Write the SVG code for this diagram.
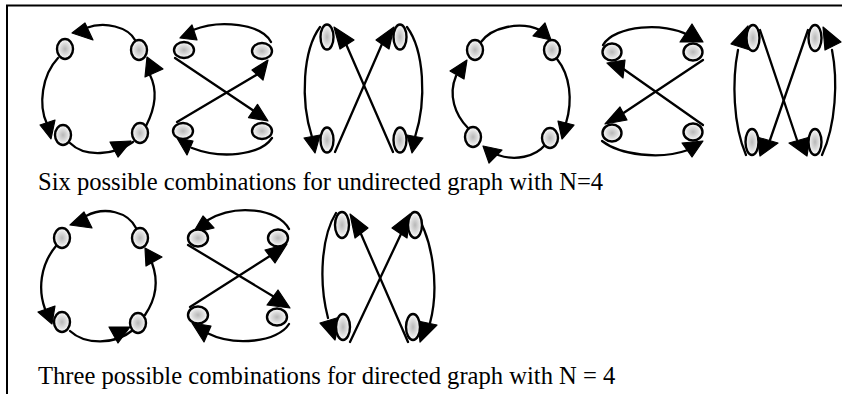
<svg xmlns="http://www.w3.org/2000/svg" width="842" height="394" viewBox="0 0 842 394">
<style>
.bg{fill:#fff}
.frame{fill:none;stroke:#000;stroke-width:2}
.e{fill:none;stroke:#000;stroke-width:2.3;stroke-linecap:round}
.a{fill:#000;stroke:#000;stroke-width:1.2;stroke-linejoin:round}
.n{fill:url(#stip);stroke:#000;stroke-width:2.4}
.t{font-family:"Liberation Serif","Times New Roman",serif;font-size:24.6px;fill:#000}
</style>
<defs>
<radialGradient id="stip" cx="50%" cy="50%" r="50%">
<stop offset="0" stop-color="#b8b8b8"/>
<stop offset="0.55" stop-color="#dcdcdc"/>
<stop offset="1" stop-color="#ffffff"/>
</radialGradient>
</defs>
<rect class="bg" x="0" y="0" width="842" height="394"/>
<path class="frame" d="M7,394 L7,5.5 L842,5.5"/>

<!-- Graph 1 -->
<g id="graph1">
<g id="graph1-connectors">
<path class="e" d="M135,40 C128,27 105,21 86,28"/>
<polygon class="a" points="72,33 85,23 93,40"/>
<path class="e" d="M150,75 Q161,97 146,126"/>
<polygon class="a" points="147,57 163,69 145,77"/>
<path class="e" d="M58,58 C42,75 38,105 47,124"/>
<polygon class="a" points="40,125 55,120 51,139"/>
<path class="e" d="M70,143 C85,158 115,155 133,142"/>
<polygon class="a" points="110,142 131,141 118,157"/>
</g>
<g id="graph1-n1"><ellipse class="n" cx="65" cy="49" rx="8" ry="10"/></g>
<g id="graph1-n2"><ellipse class="n" cx="139" cy="50" rx="8" ry="10"/></g>
<g id="graph1-n3"><ellipse class="n" cx="63" cy="135" rx="8" ry="10"/></g>
<g id="graph1-n4"><ellipse class="n" cx="140" cy="133" rx="8" ry="10"/></g>
</g>

<!-- Graph 2 -->
<g id="graph2">
<g id="graph2-connectors">
<path class="e" d="M271,42 C262,24 220,19 193,30"/>
<polygon class="a" points="180,38 192,25 197,40"/>
<path class="e" d="M175,58 L254,111"/>
<polygon class="a" points="268,121 248.5,117.6 257.5,104.4"/>
<path class="e" d="M177,122 L258,74"/>
<polygon class="a" points="268,60 252,70 263,80"/>
<path class="e" d="M272,138 C260,156 220,159 192,148"/>
<polygon class="a" points="177,138 193,141 187,155"/>
</g>
<g id="graph2-n1"><ellipse class="n" cx="184" cy="50" rx="10" ry="8"/></g>
<g id="graph2-n2"><ellipse class="n" cx="262" cy="51" rx="10" ry="8"/></g>
<g id="graph2-n3"><ellipse class="n" cx="183" cy="131" rx="10" ry="8"/></g>
<g id="graph2-n4"><ellipse class="n" cx="262" cy="131" rx="10" ry="8"/></g>
</g>

<!-- Graph 3 -->
<g id="graph3">
<g id="graph3-connectors">
<path class="e" d="M320,27 C303,50 300,100 312,137"/>
<polygon class="a" points="304,138 320,135 315,153"/>
<path class="e" d="M407,27 C424,50 427,100 415,137"/>
<polygon class="a" points="423,138 407,135 412,153"/>
<path class="e" d="M393,152 L346,44"/>
<polygon class="a" points="334,27 354,40 340,49"/>
<path class="e" d="M335,152 L382,44"/>
<polygon class="a" points="394,27 376,40 389,49"/>
</g>
<g id="graph3-n1"><ellipse class="n" cx="327" cy="37" rx="6.5" ry="12.5"/></g>
<g id="graph3-n2"><ellipse class="n" cx="400" cy="37" rx="6.5" ry="12.5"/></g>
<g id="graph3-n3"><ellipse class="n" cx="327" cy="140" rx="6.5" ry="12.5"/></g>
<g id="graph3-n4"><ellipse class="n" cx="400" cy="140" rx="6.5" ry="12.5"/></g>
</g>

<!-- Graph 4 -->
<g id="graph4">
<g id="graph4-connectors">
<path class="e" d="M481,42 C492,27 520,21 540,30"/>
<polygon class="a" points="551,40 533,36 545,23"/>
<path class="e" d="M468,128 C455,115 448,95 456,76"/>
<polygon class="a" points="467,60 450,71 464,79"/>
<path class="e" d="M557,59 C570,75 573,100 566,123"/>
<polygon class="a" points="574,125 558,121 562,139"/>
<path class="e" d="M545,145 C535,157 515,161 498,155"/>
<polygon class="a" points="483,146 502,150 489,163"/>
</g>
<g id="graph4-n1"><ellipse class="n" cx="475" cy="50" rx="8" ry="10"/></g>
<g id="graph4-n2"><ellipse class="n" cx="552" cy="50" rx="8" ry="10"/></g>
<g id="graph4-n3"><ellipse class="n" cx="473" cy="137" rx="8" ry="10"/></g>
<g id="graph4-n4"><ellipse class="n" cx="550" cy="138" rx="8" ry="10"/></g>
</g>

<!-- Graph 5 -->
<g id="graph5">
<g id="graph5-connectors">
<path class="e" d="M603,45 C615,25 665,22 688,35"/>
<polygon class="a" points="680,42 692,24 703,42"/>
<path class="e" d="M703,60 L622,114"/>
<polygon class="a" points="605,124 620,107 627,120"/>
<path class="e" d="M703,125 L622,68"/>
<polygon class="a" points="607,63 625,60 623,78"/>
<path class="e" d="M602,141 C620,155 660,160 688,150"/>
<polygon class="a" points="682,143 703,141 692,157"/>
</g>
<g id="graph5-n1"><ellipse class="n" cx="612" cy="52" rx="9.5" ry="8.5"/></g>
<g id="graph5-n2"><ellipse class="n" cx="693" cy="52" rx="9.5" ry="8.5"/></g>
<g id="graph5-n3"><ellipse class="n" cx="612" cy="133" rx="9.5" ry="8.5"/></g>
<g id="graph5-n4"><ellipse class="n" cx="693" cy="132" rx="9.5" ry="8.5"/></g>
</g>

<!-- Graph 6 -->
<g id="graph6">
<g id="graph6-connectors">
<path class="e" d="M746,155 C733,125 732,80 738,50"/>
<polygon class="a" points="731,44 748,26 750,50"/>
<path class="e" d="M822,155 C836,125 838,80 832,50"/>
<polygon class="a" points="823,27 841,42 825,50"/>
<path class="e" d="M760,30 L797,140"/>
<polygon class="a" points="810,137 789,143 807,156"/>
<path class="e" d="M808,30 L770,140"/>
<polygon class="a" points="757,137 778,143 760,156"/>
</g>
<g id="graph6-n1"><ellipse class="n" cx="753" cy="38" rx="6.5" ry="13"/></g>
<g id="graph6-n2"><ellipse class="n" cx="815" cy="38" rx="6.5" ry="13"/></g>
<g id="graph6-n3"><ellipse class="n" cx="752" cy="142" rx="6.5" ry="13"/></g>
<g id="graph6-n4"><ellipse class="n" cx="815" cy="142" rx="6.5" ry="13"/></g>
</g>

<text class="t" x="38" y="190">Six possible combinations for undirected graph with N=4</text>

<!-- Graph 7 -->
<g id="graph7">
<g id="graph7-connectors">
<path class="e" d="M136,228 C128,212 105,206 86,216"/>
<polygon class="a" points="70,225 84,212 92,228"/>
<path class="e" d="M152,263 Q162,290 145,315"/>
<polygon class="a" points="145,248 162,257 146,266"/>
<path class="e" d="M56,246 C40,265 38,290 45,309"/>
<polygon class="a" points="38,312 55,306 52,324"/>
<path class="e" d="M70,331 C85,345 115,345 133,330"/>
<polygon class="a" points="109,327 130,327 118,343"/>
</g>
<g id="graph7-n1"><ellipse class="n" cx="62" cy="238" rx="8" ry="10"/></g>
<g id="graph7-n2"><ellipse class="n" cx="140" cy="238" rx="8" ry="10"/></g>
<g id="graph7-n3"><ellipse class="n" cx="62" cy="322" rx="8" ry="10"/></g>
<g id="graph7-n4"><ellipse class="n" cx="138" cy="323" rx="8" ry="10"/></g>
</g>

<!-- Graph 8 -->
<g id="graph8">
<g id="graph8-connectors">
<path class="e" d="M289,229 C278,208 235,204 208,220"/>
<polygon class="a" points="193,233 203,216 214,228"/>
<path class="e" d="M188,245 L276,298"/>
<polygon class="a" points="278,290 290,308 267,305"/>
<path class="e" d="M190,307 L273,254"/>
<polygon class="a" points="265,250 287,244 275,263"/>
<path class="e" d="M289,324 C278,342 235,347 207,333"/>
<polygon class="a" points="192,323 211,326 204,342"/>
</g>
<g id="graph8-n1"><ellipse class="n" cx="198" cy="238" rx="10" ry="8.5"/></g>
<g id="graph8-n2"><ellipse class="n" cx="278" cy="238" rx="10" ry="8.5"/></g>
<g id="graph8-n3"><ellipse class="n" cx="198" cy="315" rx="10" ry="8.5"/></g>
<g id="graph8-n4"><ellipse class="n" cx="277" cy="317" rx="10" ry="8.5"/></g>
</g>

<!-- Graph 9 -->
<g id="graph9">
<g id="graph9-connectors">
<path class="e" d="M336,213 C322,235 318,280 328,318"/>
<polygon class="a" points="320,323 340,317 335,340"/>
<path class="e" d="M414,212 C432,235 440,285 430,323"/>
<polygon class="a" points="418,321 437,325 420,342"/>
<path class="e" d="M350,342 L401,234"/>
<polygon class="a" points="392,228 410,214 407,238"/>
<path class="e" d="M408,342 L361,234"/>
<polygon class="a" points="350,214 368,228 355,238"/>
</g>
<g id="graph9-n1"><ellipse class="n" cx="342" cy="225" rx="7" ry="13"/></g>
<g id="graph9-n2"><ellipse class="n" cx="415" cy="225" rx="7" ry="13"/></g>
<g id="graph9-n3"><ellipse class="n" cx="343" cy="327" rx="7" ry="13"/></g>
<g id="graph9-n4"><ellipse class="n" cx="413" cy="327" rx="7" ry="13"/></g>
</g>

<text class="t" x="38" y="384">Three possible combinations for directed graph with N = 4</text>
</svg>
